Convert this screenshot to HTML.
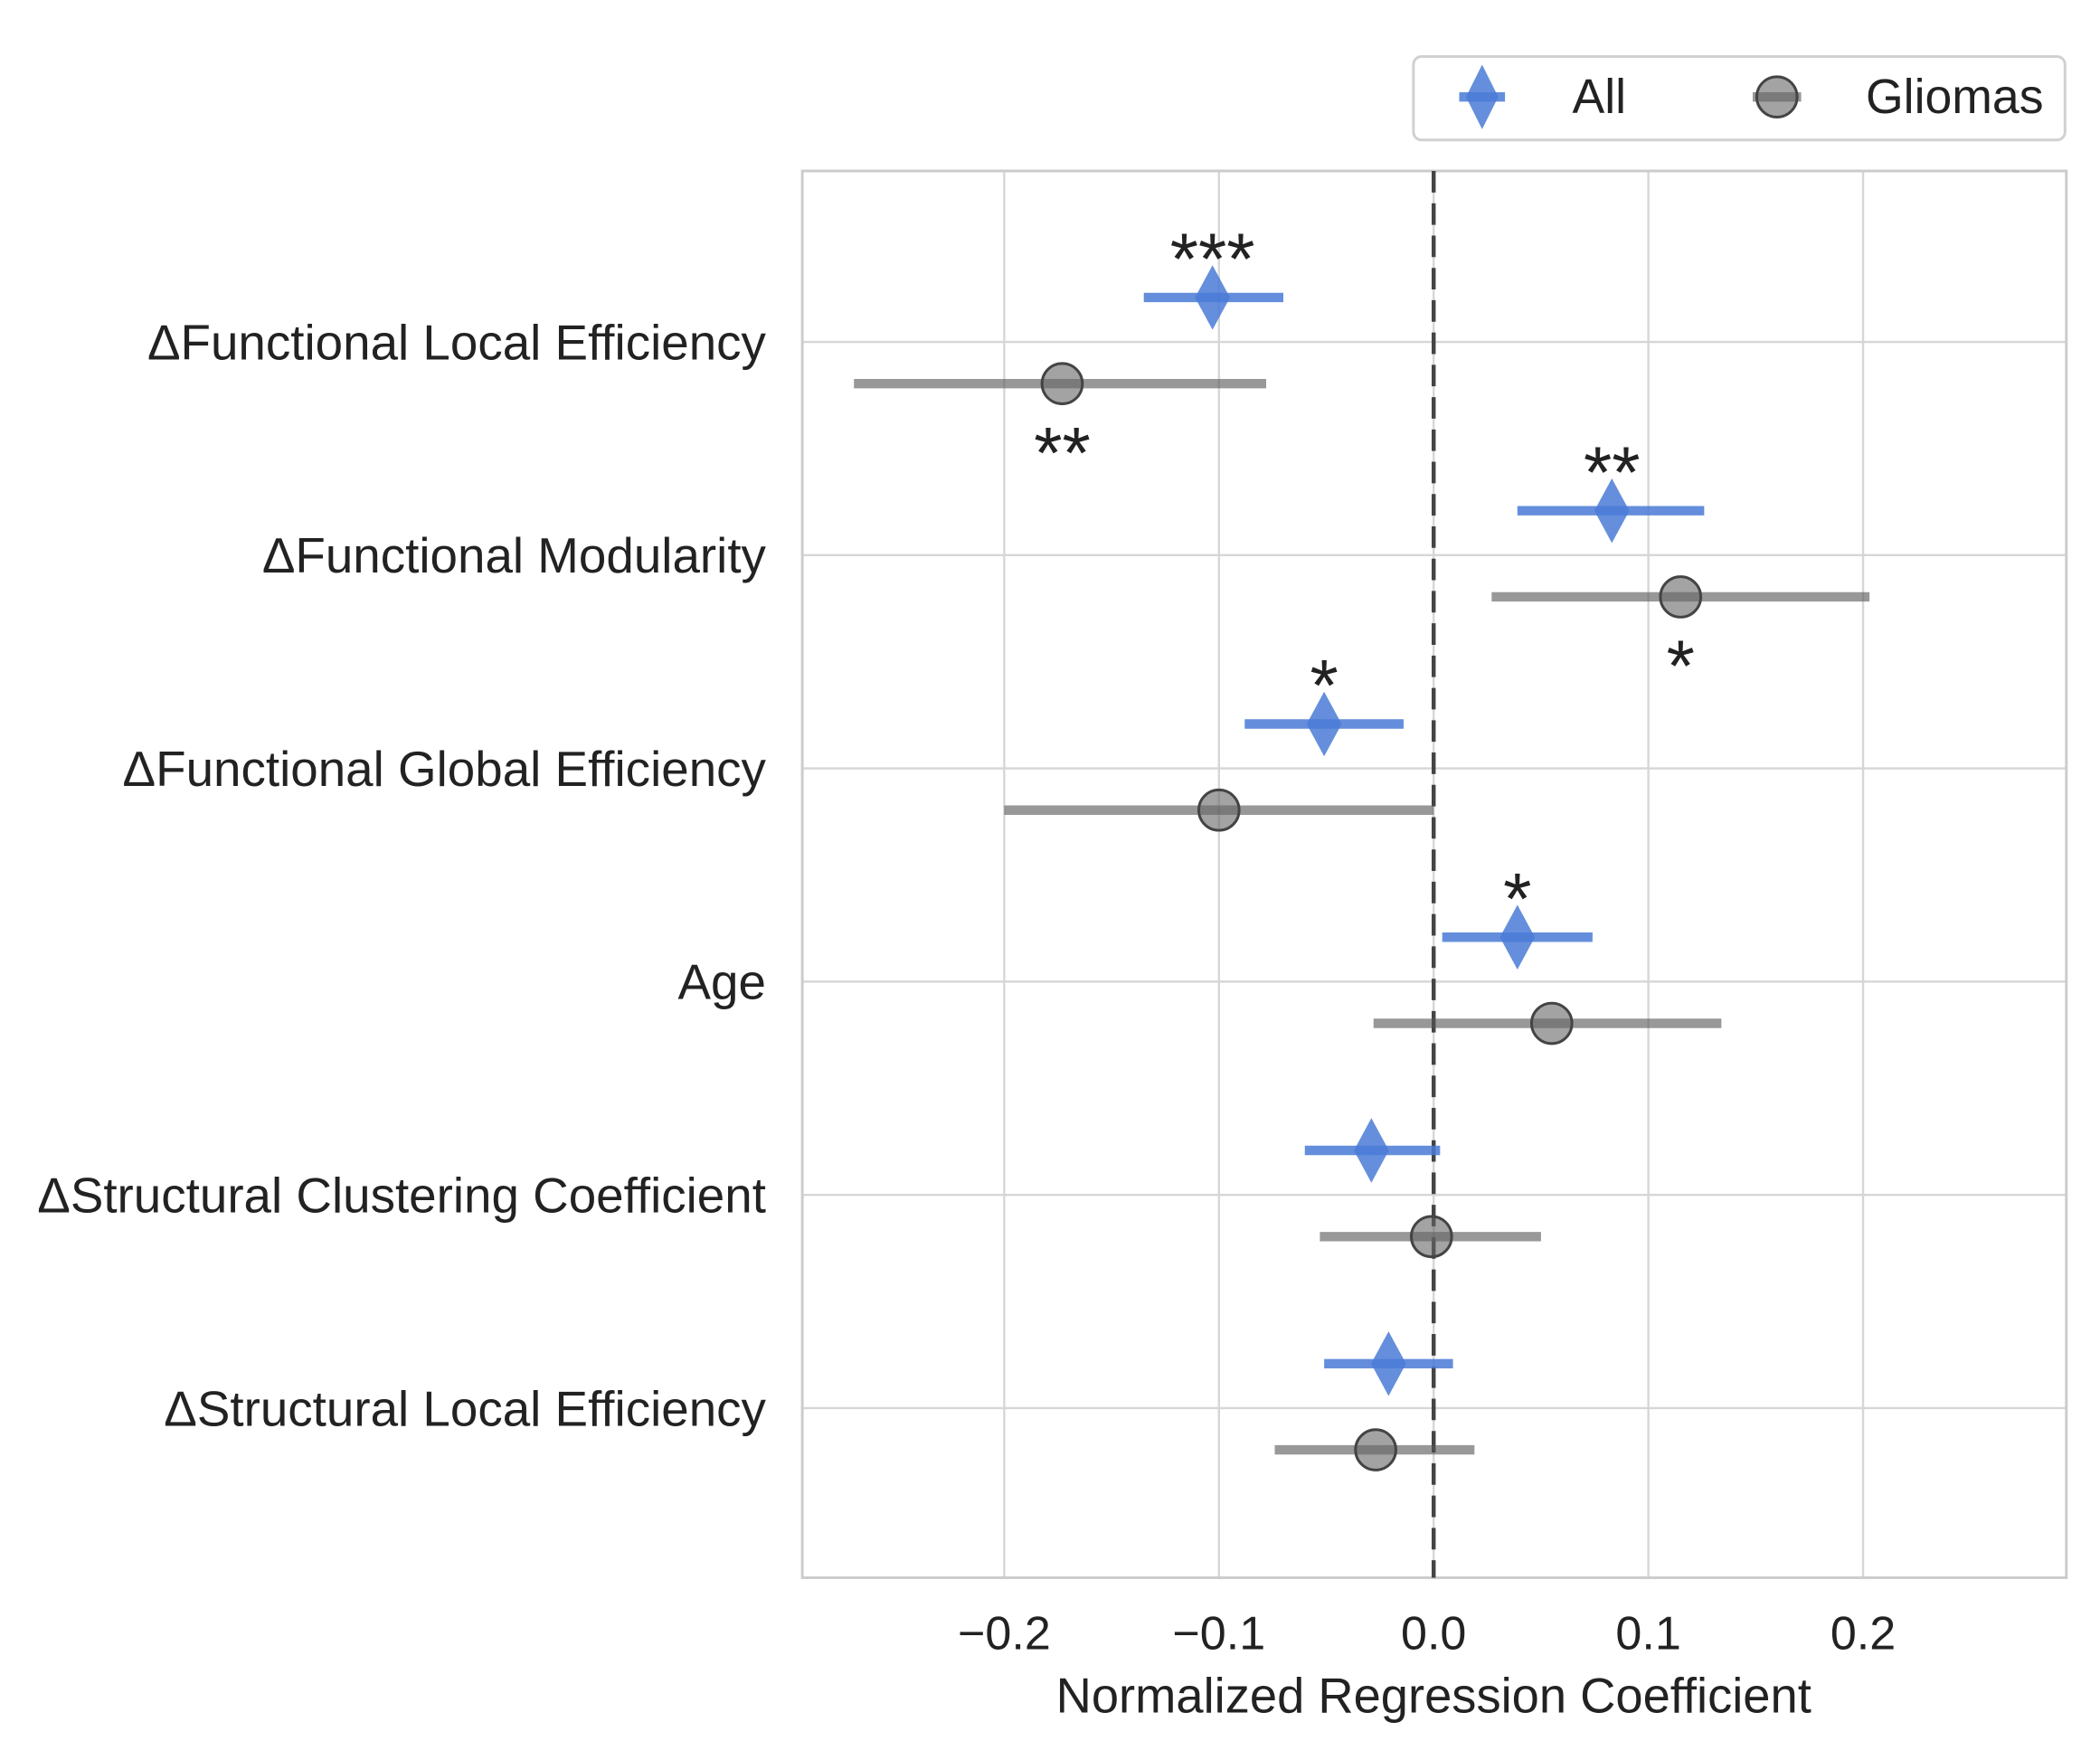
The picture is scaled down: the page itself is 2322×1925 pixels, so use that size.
<!DOCTYPE html>
<html><head><meta charset="utf-8"><style>
html,body{margin:0;padding:0;background:#fff;}
svg{display:block;font-family:"Liberation Sans",Arial,sans-serif;}
</style></head><body>
<svg id="chart" width="2322" height="1925" viewBox="0 0 1560 1293.3" preserveAspectRatio="none" xmlns="http://www.w3.org/2000/svg">
<g id="grid"></g>
<g id="marks"></g>
<g id="labels"></g>
<g>
<rect x="1050" y="42" width="484" height="62" rx="6" fill="#fff" stroke="#d0d0d0" stroke-width="2"/>
<g>
<line x1="1084" y1="72" x2="1118" y2="72" stroke="#4a7bd6" stroke-width="7" opacity="0.85"/>
<polygon points="1101,48 1113,72 1101,96 1089,72" fill="#4a7bd6" opacity="0.85"/>
<text x="1168" y="84" font-size="36" fill="#222">All</text>
</g>
<g>
<line x1="1302" y1="72" x2="1338" y2="72" stroke="#555" stroke-width="7" opacity="0.6"/>
<circle cx="1320" cy="72" r="15" fill="#666" fill-opacity="0.6" stroke="#444" stroke-width="2"/>
<text x="1386" y="84" font-size="36" fill="#222">Gliomas</text>
</g>
</g>
</svg>
<script>
const categories=["\u0394Functional Local Efficiency","\u0394Functional Modularity","\u0394Functional Global Efficiency","Age","\u0394Structural Clustering Coefficient","\u0394Structural Local Efficiency"];
const allCoef=[-0.103,0.083,-0.051,0.039,-0.029,-0.021];
const allLo=[-0.135,0.039,-0.088,0.004,-0.060,-0.051];
const allHi=[-0.070,0.126,-0.014,0.074,0.003,0.009];
const gliCoef=[-0.173,0.115,-0.100,0.055,-0.001,-0.027];
const gliLo=[-0.270,0.027,-0.200,-0.028,-0.053,-0.074];
const gliHi=[-0.078,0.203,0.000,0.134,0.050,0.019];
const allStars=["***","**","*","*","",""];
const gliStars=["**","*","","","",""];
const xTicks=[-0.2,-0.1,0.0,0.1,0.2];
const xTickLabels=["\u22120.2","\u22120.1","0.0","0.1","0.2"];

const NS="http://www.w3.org/2000/svg";
const L=596,R=1535,T=127,B=1172;
const x=v=>1065+v*1595;
const y=i=>254+i*158.4;
function mk(tag,parent,attrs,text){const e=document.createElementNS(NS,tag);for(const k in attrs)e.setAttribute(k,attrs[k]);if(text!==undefined)e.textContent=text;parent.appendChild(e);return e;}
const grid=document.getElementById('grid'),marks=document.getElementById('marks'),labels=document.getElementById('labels');

xTicks.forEach((t,i)=>{
  const g=mk('line',grid,{x1:x(t),x2:x(t),y1:T,y2:B,stroke:'#d6d6d6','stroke-width':1.6});
  
  
  const tl=mk('text',labels,{x:x(t),y:1225,'font-size':35,'text-anchor':'middle',fill:'#222'},xTickLabels[i]);
  
  
});
categories.forEach((c,i)=>{
  const g=mk('line',grid,{x1:L,x2:R,y1:y(i),y2:y(i),stroke:'#d6d6d6','stroke-width':1.6});
  
  
  const tl=mk('text',labels,{x:569,y:y(i)+13,'font-size':36.8,'text-anchor':'end',fill:'#222'},c);
  
  
});
const border=mk('rect',grid,{x:L,y:T,width:R-L,height:B-T,fill:'none',stroke:'#cccccc','stroke-width':2});


const zl=mk('line',grid,{x1:x(0),x2:x(0),y1:T,y2:B,stroke:'#444','stroke-width':3,'stroke-dasharray':'16 8'});



categories.forEach((c,i)=>{
  const ya=y(i)-33, yg=y(i)+31;
  const eb=mk('line',marks,{x1:x(allLo[i]),x2:x(allHi[i]),y1:ya,y2:ya,stroke:'#4a7bd6','stroke-width':7,opacity:0.85});
  
  
  const cx=x(allCoef[i]);
  const d=mk('polygon',marks,{points:`${cx},${ya-24} ${cx+13},${ya} ${cx},${ya+24} ${cx-13},${ya}`,fill:'#4a7bd6',opacity:0.85});
  
  
  const gb=mk('line',marks,{x1:x(gliLo[i]),x2:x(gliHi[i]),y1:yg,y2:yg,stroke:'#555','stroke-width':7,opacity:0.6});
  
  
  const p=mk('circle',marks,{cx:x(gliCoef[i]),cy:yg,r:15,fill:'#666','fill-opacity':0.6,stroke:'#444','stroke-width':2});
  
  
  if(allStars[i]){
    const s=mk('text',labels,{x:cx,y:ya-10,'font-size':54,'text-anchor':'middle',fill:'#222'},allStars[i]);
    
    
  }
  if(gliStars[i]){
    const s=mk('text',labels,{x:x(gliCoef[i]),y:yg+70,'font-size':54,'text-anchor':'middle',fill:'#222'},gliStars[i]);
    
    
  }
});
const xt=mk('text',labels,{x:1065,y:1272,'font-size':36.5,'text-anchor':'middle',fill:'#222'},'Normalized Regression Coefficient');


</script>
</body></html>
